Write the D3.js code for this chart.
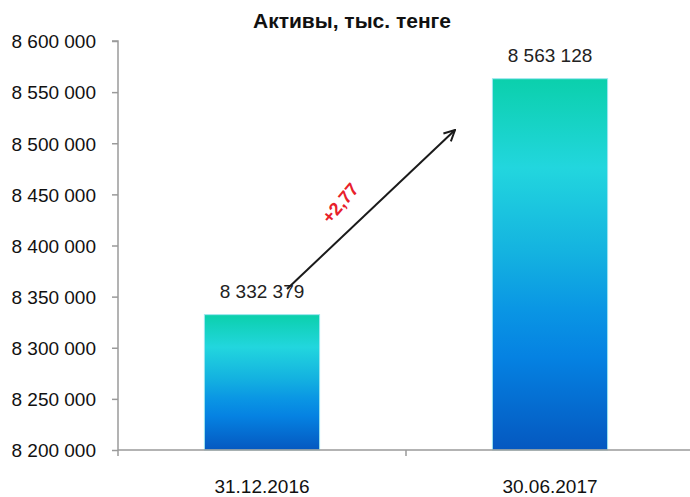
<!DOCTYPE html>
<html><head><meta charset="utf-8">
<script src="https://cdn.jsdelivr.net/npm/d3@7/dist/d3.min.js"></script>
<style>body{margin:0;background:#fff;}svg{display:block;}</style>
</head><body>
<svg id="c" width="690" height="497"></svg>
<script>
const title = "Активы, тыс. тенге";
const categories = ["31.12.2016", "30.06.2017"];
const values = [8332379, 8563128];
const valueLabels = ["8 332 379", "8 563 128"];
const yTicks = [8200000, 8250000, 8300000, 8350000, 8400000, 8450000, 8500000, 8550000, 8600000];
const changeLabel = "+2,77";

(function () {
const svg = d3.select("#c");
const mLeft = 118, mRight = 694, mTop = 41, mBottom = 450;
const FF = "Liberation Sans, Arial, sans-serif";
const fmt = v => d3.format(",")(v).replace(/,/g, " ");
const x = d3.scaleBand().domain(categories).range([mLeft, mRight]).paddingInner(0).paddingOuter(0);
const y = d3.scaleLinear().domain([8200000, 8600000]).range([mBottom, mTop]);

const defs = svg.append("defs");
const g = defs.append("linearGradient").attr("id", "bg").attr("x1", 0).attr("y1", 0).attr("x2", 0).attr("y2", 1);
[[0, "#0bd0ac"], [0.24, "#22d6de"], [0.47, "#14b2e0"], [0.62, "#0a96e4"], [0.75, "#0582e2"], [1, "#0558c0"]]
  .forEach(([o, c]) => g.append("stop").attr("offset", o).attr("stop-color", c));
const mk = defs.append("marker").attr("id", "ah").attr("viewBox", "0 0 12 12").attr("refX", 11).attr("refY", 6)
  .attr("markerWidth", 13).attr("markerHeight", 13).attr("markerUnits", "userSpaceOnUse").attr("orient", "auto");
mk.append("path").attr("d", "M1,1 L11,6 L1,11").attr("fill", "none").attr("stroke", "#1a1a1a").attr("stroke-width", 1.8);

svg.append("text").attr("x", 352).attr("y", 28).attr("text-anchor", "middle")
  .attr("font-family", FF).attr("font-weight", "bold").attr("font-size", 21)
  .attr("fill", "#111").text(title);

const yAxis = d3.axisLeft(y).tickValues(yTicks).tickSize(6).tickPadding(16).tickFormat(fmt);
const ya = svg.append("g").attr("transform", `translate(${mLeft},0)`).call(yAxis);
ya.select(".domain").attr("stroke", "#9a9a9a").attr("stroke-width", 1.5).attr("d", `M-6,${mTop}H0V${mBottom}`);
ya.selectAll(".tick line").attr("stroke", "#9a9a9a").attr("stroke-width", 1.5);
ya.selectAll(".tick text").attr("font-family", FF).attr("font-size", 19).attr("fill", "#111").attr("dy", "0.36em");

const bw = x.bandwidth() * 0.4;
svg.selectAll("rect.bar").data(values).enter().append("rect").attr("class", "bar")
  .attr("x", (d, i) => x(categories[i]) + x.bandwidth() / 2 - bw / 2)
  .attr("y", d => y(d)).attr("width", bw).attr("height", d => mBottom - y(d))
  .attr("fill", "url(#bg)").attr("stroke", "#9fe6f0").attr("stroke-width", 1);

const xa = svg.append("g").attr("transform", `translate(0,${mBottom})`);
xa.append("line").attr("x1", mLeft).attr("x2", 690).attr("y1", 0).attr("y2", 0).attr("stroke", "#9a9a9a").attr("stroke-width", 1.5);
xa.selectAll("line.sep").data(categories.slice(1)).enter().append("line")
  .attr("x1", d => x(d)).attr("x2", d => x(d)).attr("y1", 0).attr("y2", 6).attr("stroke", "#9a9a9a").attr("stroke-width", 1.5);
xa.append("line").attr("x1", mLeft).attr("x2", mLeft).attr("y1", 0).attr("y2", 6).attr("stroke", "#9a9a9a").attr("stroke-width", 1.5);
xa.selectAll("text").data(categories).enter().append("text")
  .attr("x", d => x(d) + x.bandwidth() / 2).attr("y", 43).attr("text-anchor", "middle")
  .attr("font-family", FF).attr("font-size", 19).attr("fill", "#111").text(d => d);

svg.selectAll("text.vl").data(values).enter().append("text").attr("class", "vl")
  .attr("x", (d, i) => x(categories[i]) + x.bandwidth() / 2).attr("y", d => y(d) - 17)
  .attr("text-anchor", "middle").attr("font-family", FF).attr("font-size", 19)
  .attr("fill", "#222").text((d, i) => valueLabels[i]);

const ax1 = 287, ay1 = 289, ax2 = 455, ay2 = 130;
svg.append("line").attr("x1", ax1).attr("y1", ay1).attr("x2", ax2).attr("y2", ay2)
  .attr("stroke", "#1a1a1a").attr("stroke-width", 2).attr("marker-end", "url(#ah)");
svg.append("text").attr("transform", "translate(345,207) rotate(-50)").attr("text-anchor", "middle")
  .attr("font-family", FF).attr("font-weight", "bold").attr("font-size", 18)
  .attr("fill", "#e8202a").text(changeLabel);
})();
</script>
</body></html>
